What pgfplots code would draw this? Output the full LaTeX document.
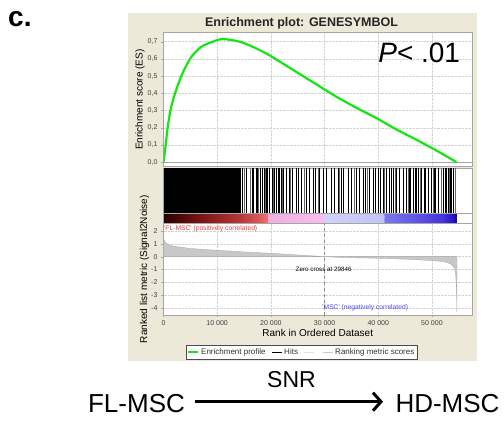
\documentclass[border=0pt]{standalone}
\usepackage{pgfplots}
\pgfplotsset{compat=1.18}
\usepackage{fontspec}
\setmainfont{Liberation Sans}
\usetikzlibrary{arrows.meta}

\definecolor{panelbg}{RGB}{236,233,216}
\definecolor{esgreen}{RGB}{20,230,20}
\definecolor{gridgray}{RGB}{210,210,210}
\definecolor{framegray}{RGB}{165,165,165}
\definecolor{metricgray}{RGB}{200,200,200}
\definecolor{poslabel}{RGB}{235,60,60}
\definecolor{neglabel}{RGB}{70,70,245}

\pgfplotsset{
  gsea/.style={
    scale only axis, width=308.5pt, xmin=0, xmax=57460,
    axis background/.style={fill=white},
    axis line style={framegray}, tick style={framegray},
    tick align=outside, major tick length=2.5pt,
    xtick={0,10000,...,50000},
    xtick pos=left, ytick pos=left,
    tick label style={font=\fontsize{7}{8}\selectfont, text=black!75},
    label style={font=\fontsize{8.3}{9}\selectfont, text=black!80},
    /pgf/number format/assume math mode=true,
    grid style={gridgray, densely dotted},
  },
  colormap={gseabar}{
    rgb255(0)=(40,0,0) rgb255(40)=(90,10,10) rgb255(90)=(140,30,30)
    rgb255(140)=(180,55,55) rgb255(175)=(215,85,85) rgb255(194)=(240,115,115)
    rgb255(195)=(240,175,222) rgb255(297.5)=(247,190,235)
    rgb255(298.5)=(210,210,250) rgb255(408)=(195,195,246)
    rgb255(413)=(120,120,236) rgb255(470)=(95,85,230)
    rgb255(520)=(70,50,220) rgb255(540)=(35,20,195) rgb255(546.5)=(20,0,150)
  },
}

\begin{document}
\begin{tikzpicture}
\useasboundingbox (0pt,0pt) rectangle (504pt,423pt);
\begin{scope}[x=1pt,y=1pt]
\fill[panelbg] (128,62) rectangle (477,410);
\node[anchor=base west, inner sep=0, font=\fontsize{28}{30}\selectfont\bfseries] at (8,396) {c.};
\node[anchor=base, inner sep=0, font=\fontsize{12.5}{14}\selectfont\bfseries, text=black!85] at (301.5,396.3) {Enrichment plot: GENESYMBOL};
\end{scope}

% enrichment score
\begin{axis}[gsea, at={(163.5pt,256.3pt)}, anchor=south west, height=134pt,
  ymin=-0.026, ymax=0.752, ytick={0,0.1,...,0.7}, xticklabels={},
  major x tick style={draw=none}, grid=major,
  yticklabel style={/pgf/number format/.cd, fixed, fixed zerofill, precision=1, use comma},
  ylabel={Enrichment score (ES)},
  every axis y label/.style={at={(axis description cs:0,0.5)}, xshift=-23.5pt, rotate=90, anchor=center}]
  \addplot[framegray, line width=0.6pt] coordinates {(0,0)(57460,0)};
  \addplot[esgreen, line width=2.2pt, smooth, tension=0.45] coordinates {
    (0,0) (373,0.09) (808,0.21) (1430,0.32) (2365,0.42) (3600,0.52) (5160,0.61)
    (7030,0.67) (9200,0.70) (11070,0.715) (14180,0.70) (17000,0.665) (19780,0.62)
    (22900,0.56) (26000,0.50) (29100,0.44) (32210,0.38) (36000,0.315) (39680,0.256)
    (43400,0.19) (47140,0.13) (51000,0.065) (54600,0)};
  \node[anchor=base east, inner sep=0, font=\fontsize{28}{30}\selectfont] at (rel axis cs:0.962,0.78) {\textit{P}< .01};
\end{axis}

% hits and ranking colour bar
\begin{axis}[gsea, at={(163.5pt,199.7pt)}, anchor=south west, height=55pt,
  ymin=0, ymax=1, xtick=\empty, ytick=\empty,
  point meta min=0, point meta max=54650]
  \addplot[fill=black, draw=none] coordinates {(0,1)(14450,1)} \closedcycle;
  \addplot[ycomb, black, line width=1.1pt, mark=none] coordinates {
    (14680,1)(15425,1)(16670,1)(17416,1)(18038,1)(18411,1)(18847,1)(19282,1)
    (19780,1)(20277,1)(20713,1)(21024,1)(21521,1)(21957,1)(22392,1)(22890,1)
    (23387,1)(23947,1)(24756,1)(25066,1)(25689,1)(26622,1)(27244,1)(27866,1)
    (28363,1)(29110,1)(29732,1)(30354,1)(31287,1)(31909,1)(32530,1)(33152,1)
    (33463,1)(34396,1)(35019,1)(35952,1)(36574,1)(37196,1)(37693,1)(38440,1)
    (39062,1)(39559,1)(39995,1)(40430,1)(40928,1)(41550,1)(42172,1)(42483,1)
    (42794,1)(43416,1)(44038,1)(44660,1)(45282,1)(45904,1)(46526,1)(47023,1)
    (47459,1)(48081,1)(48703,1)(49324,1)(49946,1)(50569,1)(51190,1)(52123,1)
    (52621,1)(53057,1)(53368,1)(53679,1)(53990,1)};
  \addplot[ycomb, black!60, line width=0.8pt, mark=none] coordinates {
    (15050,1)(16100,1)(17750,1)(19000,1)(20500,1)(22100,1)(23650,1)(26200,1)
    (28900,1)(32800,1)(35500,1)(38000,1)(41200,1)(43100,1)(45600,1)(47800,1)
    (50300,1)(51700,1)(53200,1)(54300,1)};
  \addplot[patch, patch type=rectangle, shader=interp, colormap name=gseabar, point meta=explicit] coordinates {
    (0,0)[0] (4000,0)[4000] (4000,0.18)[4000] (0,0.18)[0]
    (4000,0)[4000] (9000,0)[9000] (9000,0.18)[9000] (4000,0.18)[4000]
    (9000,0)[9000] (14000,0)[14000] (14000,0.18)[14000] (9000,0.18)[9000]
    (14000,0)[14000] (17500,0)[17500] (17500,0.18)[17500] (14000,0.18)[14000]
    (17500,0)[17500] (19400,0)[19400] (19400,0.18)[19400] (17500,0.18)[17500]
    (19400,0)[19400] (19500,0)[19500] (19500,0.18)[19500] (19400,0.18)[19400]
    (19500,0)[19500] (29750,0)[29750] (29750,0.18)[29750] (19500,0.18)[19500]
    (29750,0)[29750] (29850,0)[29850] (29850,0.18)[29850] (29750,0.18)[29750]
    (29850,0)[29850] (40800,0)[40800] (40800,0.18)[40800] (29850,0.18)[29850]
    (40800,0)[40800] (41300,0)[41300] (41300,0.18)[41300] (40800,0.18)[40800]
    (41300,0)[41300] (47000,0)[47000] (47000,0.18)[47000] (41300,0.18)[41300]
    (47000,0)[47000] (52000,0)[52000] (52000,0.18)[52000] (47000,0.18)[47000]
    (52000,0)[52000] (54000,0)[54000] (54000,0.18)[54000] (52000,0.18)[52000]
    (54000,0)[54000] (54650,0)[54650] (54650,0.18)[54650] (54000,0.18)[54000]};
  \addplot[framegray, line width=0.4pt] coordinates {(0,0.18)(57460,0.18)};
\end{axis}

% ranked list metric
\begin{axis}[gsea, at={(163.5pt,108pt)}, anchor=south west, height=91.7pt,
  ymin=-4.57, ymax=2.61, ytick={-4,-3,...,2}, grid=major,
  xticklabel style={/pgf/number format/.cd, 1000 sep={\ }}, scaled x ticks=false,
  xlabel={Rank in Ordered Dataset},
  ylabel={Ranked list metric (Signal2Noise)},
  every axis x label/.style={at={(axis description cs:0.5,0)}, yshift=-18pt, anchor=center},
  every axis y label/.style={at={(axis description cs:0,0.5)}, xshift=-19pt, rotate=90, anchor=center},
  legend columns=4,
  legend image code/.code={\draw (0pt,0pt) -- (10pt,0pt);},
  legend style={at={(0.449,-0.327)}, anchor=north, draw=black!70, fill=white,
    font=\fontsize{8}{9}\selectfont, text=black!80, inner sep=1.2pt,
    /tikz/every even column/.append style={column sep=4pt}}]
  \addlegendimage{esgreen, line width=1.5pt}
  \addlegendentry{Enrichment profile}
  \addlegendimage{black, line width=0.6pt}
  \addlegendentry{Hits}
  \addlegendimage{black!12, line width=0.6pt}
  \addlegendentry{}
  \addlegendimage{metricgray, line width=0.6pt}
  \addlegendentry{Ranking metric scores}
  \addplot[forget plot, fill=metricgray, draw=black!35, line width=0.3pt] coordinates {
    (0,0) (0,1.44) (300,1.15) (1000,0.9) (2500,0.78) (5000,0.64) (7500,0.56)
    (10000,0.5) (12500,0.43) (15000,0.37) (17500,0.31) (20000,0.26) (22500,0.2)
    (25000,0.13) (27500,0.07) (29846,0) (32500,-0.05) (35000,-0.08) (37500,-0.11)
    (40000,-0.13) (42500,-0.16) (45000,-0.2) (47500,-0.25) (50000,-0.31)
    (52000,-0.38) (53000,-0.48) (53800,-0.65) (54200,-0.9) (54400,-1.3)
    (54550,-2.3) (54620,-3.5) (54650,-4.35) (54650,0)} --cycle;
  \addplot[forget plot, black!45, dashed, line width=0.4pt] coordinates {(29846,-4.57)(29846,2.61)};
  \node[anchor=west, inner sep=0.5pt, text=poslabel, font=\fontsize{6.7}{7}\selectfont] at (axis cs:0,2.15) {\textquotesingle FL-MSC\textquotesingle\ (positively correlated)};
  \node[anchor=center, inner sep=0.5pt, font=\fontsize{6.3}{7}\selectfont] at (axis cs:29846,-0.96) {Zero cross at 29846};
  \node[anchor=center, inner sep=0.5pt, text=neglabel, font=\fontsize{6.7}{7}\selectfont] at (axis cs:37570,-4.04) {\textquotesingle MSC\textquotesingle\ (negatively correlated)};
\end{axis}

% comparison arrow
\begin{scope}[x=1pt,y=1pt]
\node[anchor=base, inner sep=0, font=\fontsize{26}{28}\selectfont] at (136.5,10) {FL-MSC};
\node[anchor=base, inner sep=0, font=\fontsize{26}{28}\selectfont] at (447.5,10) {HD-MSC};
\node[anchor=base, inner sep=0, font=\fontsize{23}{25}\selectfont] at (291.5,35) {SNR};
\draw[line width=3pt, -{Straight Barb[length=8pt, width=18pt]}] (195,21.3) -- (383,21.3);
\end{scope}
\end{tikzpicture}
\end{document}
